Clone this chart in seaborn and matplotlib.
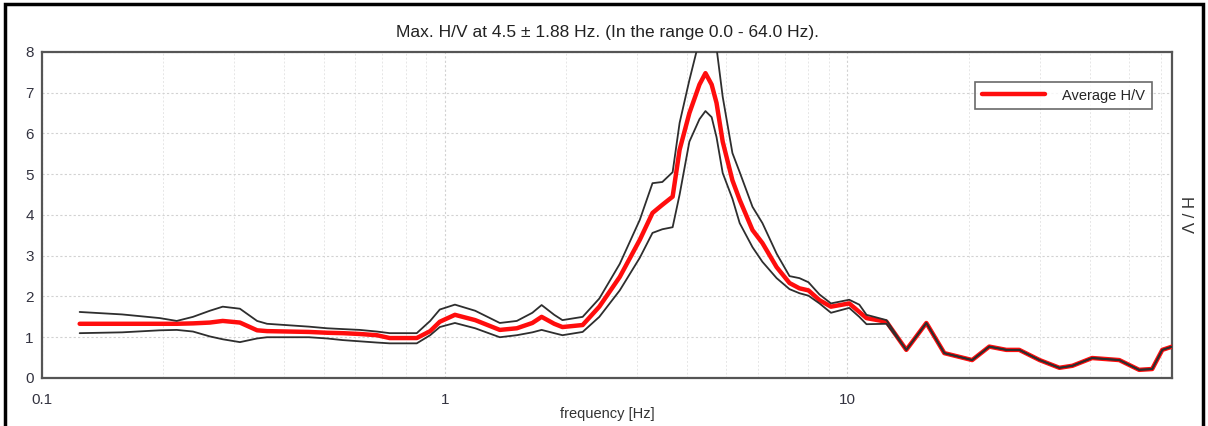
import numpy as np
import pandas as pd
import matplotlib
matplotlib.use("Agg")
import matplotlib.pyplot as plt
import seaborn as sns
from matplotlib.patches import Rectangle
from matplotlib.ticker import LogLocator, FixedLocator

# Datos (frecuencia en Hz, H/V)
freq = [0.124, 0.158, 0.196, 0.216, 0.237, 0.261, 0.281, 0.31, 0.342, 0.362,
        0.46, 0.51, 0.558, 0.615, 0.678, 0.73, 0.852, 0.92, 0.972, 1.06,
        1.19, 1.37, 1.51, 1.65, 1.74, 1.87, 1.96, 2.2, 2.42, 2.72,
        3.05, 3.28, 3.47, 3.68, 3.83, 4.05, 4.29, 4.44, 4.6, 4.73,
        4.9, 5.18, 5.4, 5.81, 6.15, 6.67, 7.18, 7.6, 8.0, 8.52,
        9.1, 10.1, 10.7, 11.15, 12.5, 14.0, 15.7, 17.4, 20.4, 22.5,
        24.8, 26.7, 30.0, 33.6, 36.2, 40.5, 47.3, 53.0, 57.1, 60.5, 64.0]

hv_media = [1.33, 1.33, 1.33, 1.33, 1.34, 1.36, 1.40, 1.36, 1.17, 1.15,
            1.13, 1.11, 1.10, 1.08, 1.05, 0.98, 0.98, 1.15, 1.38, 1.55,
            1.42, 1.18, 1.22, 1.35, 1.50, 1.33, 1.25, 1.30, 1.75, 2.48,
            3.39, 4.05, 4.25, 4.45, 5.60, 6.50, 7.20, 7.48, 7.20, 6.75,
            5.80, 4.85, 4.37, 3.63, 3.31, 2.72, 2.33, 2.20, 2.15, 1.91,
            1.75, 1.83, 1.62, 1.47, 1.38, 0.69, 1.35, 0.61, 0.44, 0.77,
            0.69, 0.69, 0.44, 0.25, 0.30, 0.49, 0.44, 0.20, 0.22, 0.69, 0.77]

hv_sup = [1.62, 1.56, 1.47, 1.40, 1.50, 1.65, 1.75, 1.70, 1.40, 1.33,
          1.26, 1.22, 1.20, 1.18, 1.14, 1.10, 1.10, 1.40, 1.68, 1.80,
          1.65, 1.35, 1.40, 1.60, 1.79, 1.55, 1.42, 1.50, 1.95, 2.80,
          3.88, 4.78, 4.81, 5.05, 6.26, 7.31, 8.30, 8.50, 8.40, 8.10,
          6.90, 5.52, 5.05, 4.20, 3.80, 3.05, 2.50, 2.45, 2.35, 2.05,
          1.83, 1.92, 1.80, 1.55, 1.42, 0.69, 1.35, 0.61, 0.44, 0.77,
          0.69, 0.69, 0.44, 0.25, 0.30, 0.49, 0.44, 0.20, 0.22, 0.69, 0.77]

hv_inf = [1.10, 1.12, 1.17, 1.18, 1.14, 1.02, 0.95, 0.88, 0.97, 1.00,
          1.00, 0.97, 0.93, 0.90, 0.87, 0.85, 0.85, 1.05, 1.25, 1.35,
          1.22, 1.00, 1.05, 1.12, 1.18, 1.10, 1.05, 1.13, 1.50, 2.15,
          2.95, 3.56, 3.65, 3.70, 4.50, 5.80, 6.35, 6.55, 6.40, 5.91,
          5.03, 4.40, 3.80, 3.21, 2.85, 2.45, 2.18, 2.08, 2.02, 1.83,
          1.60, 1.72, 1.50, 1.32, 1.33, 0.69, 1.35, 0.61, 0.44, 0.77,
          0.69, 0.69, 0.44, 0.25, 0.30, 0.49, 0.44, 0.20, 0.22, 0.69, 0.77]

titulo = "Max. H/V at 4.5 \u00b1 1.88 Hz. (In the range 0.0 - 64.0 Hz)."

df = pd.DataFrame({"freq": freq, "media": hv_media, "sup": hv_sup, "inf": hv_inf})

sns.set_style("white")
plt.rcParams["font.family"] = ["Liberation Sans", "DejaVu Sans"]

fig = plt.figure(figsize=(12.08, 4.26), dpi=100)
ax = fig.add_axes([0.0348, 0.1127, 0.9355, 0.7653])

sns.lineplot(data=df, x="freq", y="media", ax=ax, color="#ff0d0d", lw=3.2,
             label="Average H/V", zorder=3)
sns.lineplot(data=df, x="freq", y="sup", ax=ax, color="#2e2e2e", lw=1.3,
             legend=False, zorder=4)
sns.lineplot(data=df, x="freq", y="inf", ax=ax, color="#2e2e2e", lw=1.3,
             legend=False, zorder=4)

ax.set_xscale("log")
ax.set_xlim(0.1, 64)
ax.set_ylim(0, 8)
ax.set_yticks(range(0, 9))
ax.xaxis.set_major_locator(FixedLocator([0.1, 1, 10]))
ax.set_xticklabels(["0.1", "1", "10"])
ax.xaxis.set_minor_locator(LogLocator(base=10, subs=np.arange(2, 10)))
ax.xaxis.set_minor_formatter(plt.NullFormatter())
ax.tick_params(axis="both", which="both", length=0, labelsize=11, colors="#333340")
ax.tick_params(axis="x", pad=11)
ax.tick_params(axis="y", pad=6)

ax.grid(True, which="major", axis="both", color="#d2d2d2", ls=(0, (2, 2)), lw=0.8)
ax.grid(True, which="minor", axis="x", color="#e6e6e6", ls=(0, (2, 2)), lw=0.7)

for s in ax.spines.values():
    s.set_visible(True)
    s.set_color("#555555")
    s.set_linewidth(1.6)

ax.set_xlabel("frequency [Hz]", fontsize=10.5, color="#333333", labelpad=0)
ax.set_ylabel("")
ax.set_title(titulo, fontsize=12.5, color="#222222", pad=11)

fig.text(0.981, 0.497, "H / V", rotation=270, fontsize=12, color="#333333",
         ha="center", va="center")

leg = ax.legend(loc="upper right", bbox_to_anchor=(0.982, 0.908), borderaxespad=0,
                frameon=True, fancybox=False, fontsize=10.5, handlelength=4.3,
                borderpad=0.45, handletextpad=1.2)
leg.get_frame().set_edgecolor("#444444")
leg.get_frame().set_linewidth(1.2)

# marco exterior
fig.patches.append(Rectangle((0.004, -0.05), 0.992, 1.04, transform=fig.transFigure,
                             fill=False, edgecolor="black", lw=2.5))

fig.savefig("out.png", dpi=100)
